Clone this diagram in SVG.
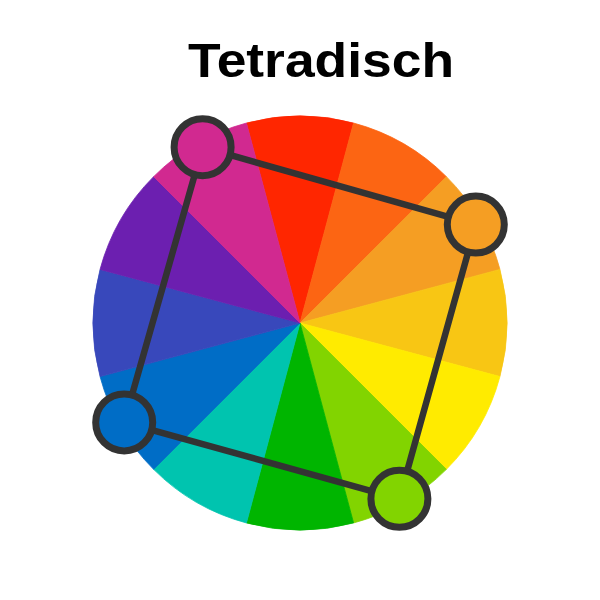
<svg xmlns="http://www.w3.org/2000/svg" width="600" height="600" viewBox="0 0 600 600">
<style>
.title{font-family:"Liberation Sans","DejaVu Sans",sans-serif;font-weight:bold;font-size:48px;fill:#000}
.edge{stroke:#333;stroke-width:6.5;fill:none;stroke-linecap:round}
.node{stroke:#333;stroke-width:7}
#wheel path{stroke-width:0.8;stroke-linejoin:round}
</style>
<rect width="600" height="600" fill="#fff"/>
<text class="title" x="321" y="77" text-anchor="middle" textLength="266" lengthAdjust="spacingAndGlyphs">Tetradisch</text>
<g id="wheel">
<path d="M300,323 L246.42,123.05 A207,207 0 0 1 353.58,123.05 Z" fill="#FF2600" stroke="#FF2600"/>
<path d="M300,323 L353.58,123.05 A207,207 0 0 1 446.37,176.63 Z" fill="#FC6513" stroke="#FC6513"/>
<path d="M300,323 L446.37,176.63 A207,207 0 0 1 499.95,269.42 Z" fill="#F59E23" stroke="#F59E23"/>
<path d="M300,323 L499.95,269.42 A207,207 0 0 1 499.95,376.58 Z" fill="#F8C614" stroke="#F8C614"/>
<path d="M300,323 L499.95,376.58 A207,207 0 0 1 446.37,469.37 Z" fill="#FFEB00" stroke="#FFEB00"/>
<path d="M300,323 L446.37,469.37 A207,207 0 0 1 353.58,522.95 Z" fill="#82D400" stroke="#82D400"/>
<path d="M300,323 L353.58,522.95 A207,207 0 0 1 246.42,522.95 Z" fill="#00B500" stroke="#00B500"/>
<path d="M300,323 L246.42,522.95 A207,207 0 0 1 153.63,469.37 Z" fill="#00C4AF" stroke="#00C4AF"/>
<path d="M300,323 L153.63,469.37 A207,207 0 0 1 100.05,376.58 Z" fill="#006DC6" stroke="#006DC6"/>
<path d="M300,323 L100.05,376.58 A207,207 0 0 1 100.05,269.42 Z" fill="#3848BB" stroke="#3848BB"/>
<path d="M300,323 L100.05,269.42 A207,207 0 0 1 153.63,176.63 Z" fill="#6C1FB0" stroke="#6C1FB0"/>
<path d="M300,323 L153.63,176.63 A207,207 0 0 1 246.42,123.05 Z" fill="#D12990" stroke="#D12990"/>
</g>
<g id="connectors">
<line class="edge" x1="202.6" y1="147.2" x2="475.8" y2="224.6"/>
<line class="edge" x1="475.8" y1="224.6" x2="399.4" y2="498.8"/>
<line class="edge" x1="399.4" y1="498.8" x2="124.2" y2="422.4"/>
<line class="edge" x1="124.2" y1="422.4" x2="202.6" y2="147.2"/>
</g>
<g id="node-magenta"><circle class="node" cx="202.6" cy="147.2" r="28.5" fill="#D12990"/></g>
<g id="node-orange"><circle class="node" cx="475.8" cy="224.6" r="28.5" fill="#F59E23"/></g>
<g id="node-green"><circle class="node" cx="399.4" cy="498.8" r="28.5" fill="#82D400"/></g>
<g id="node-blue"><circle class="node" cx="124.2" cy="422.4" r="28.5" fill="#006DC6"/></g>
</svg>
